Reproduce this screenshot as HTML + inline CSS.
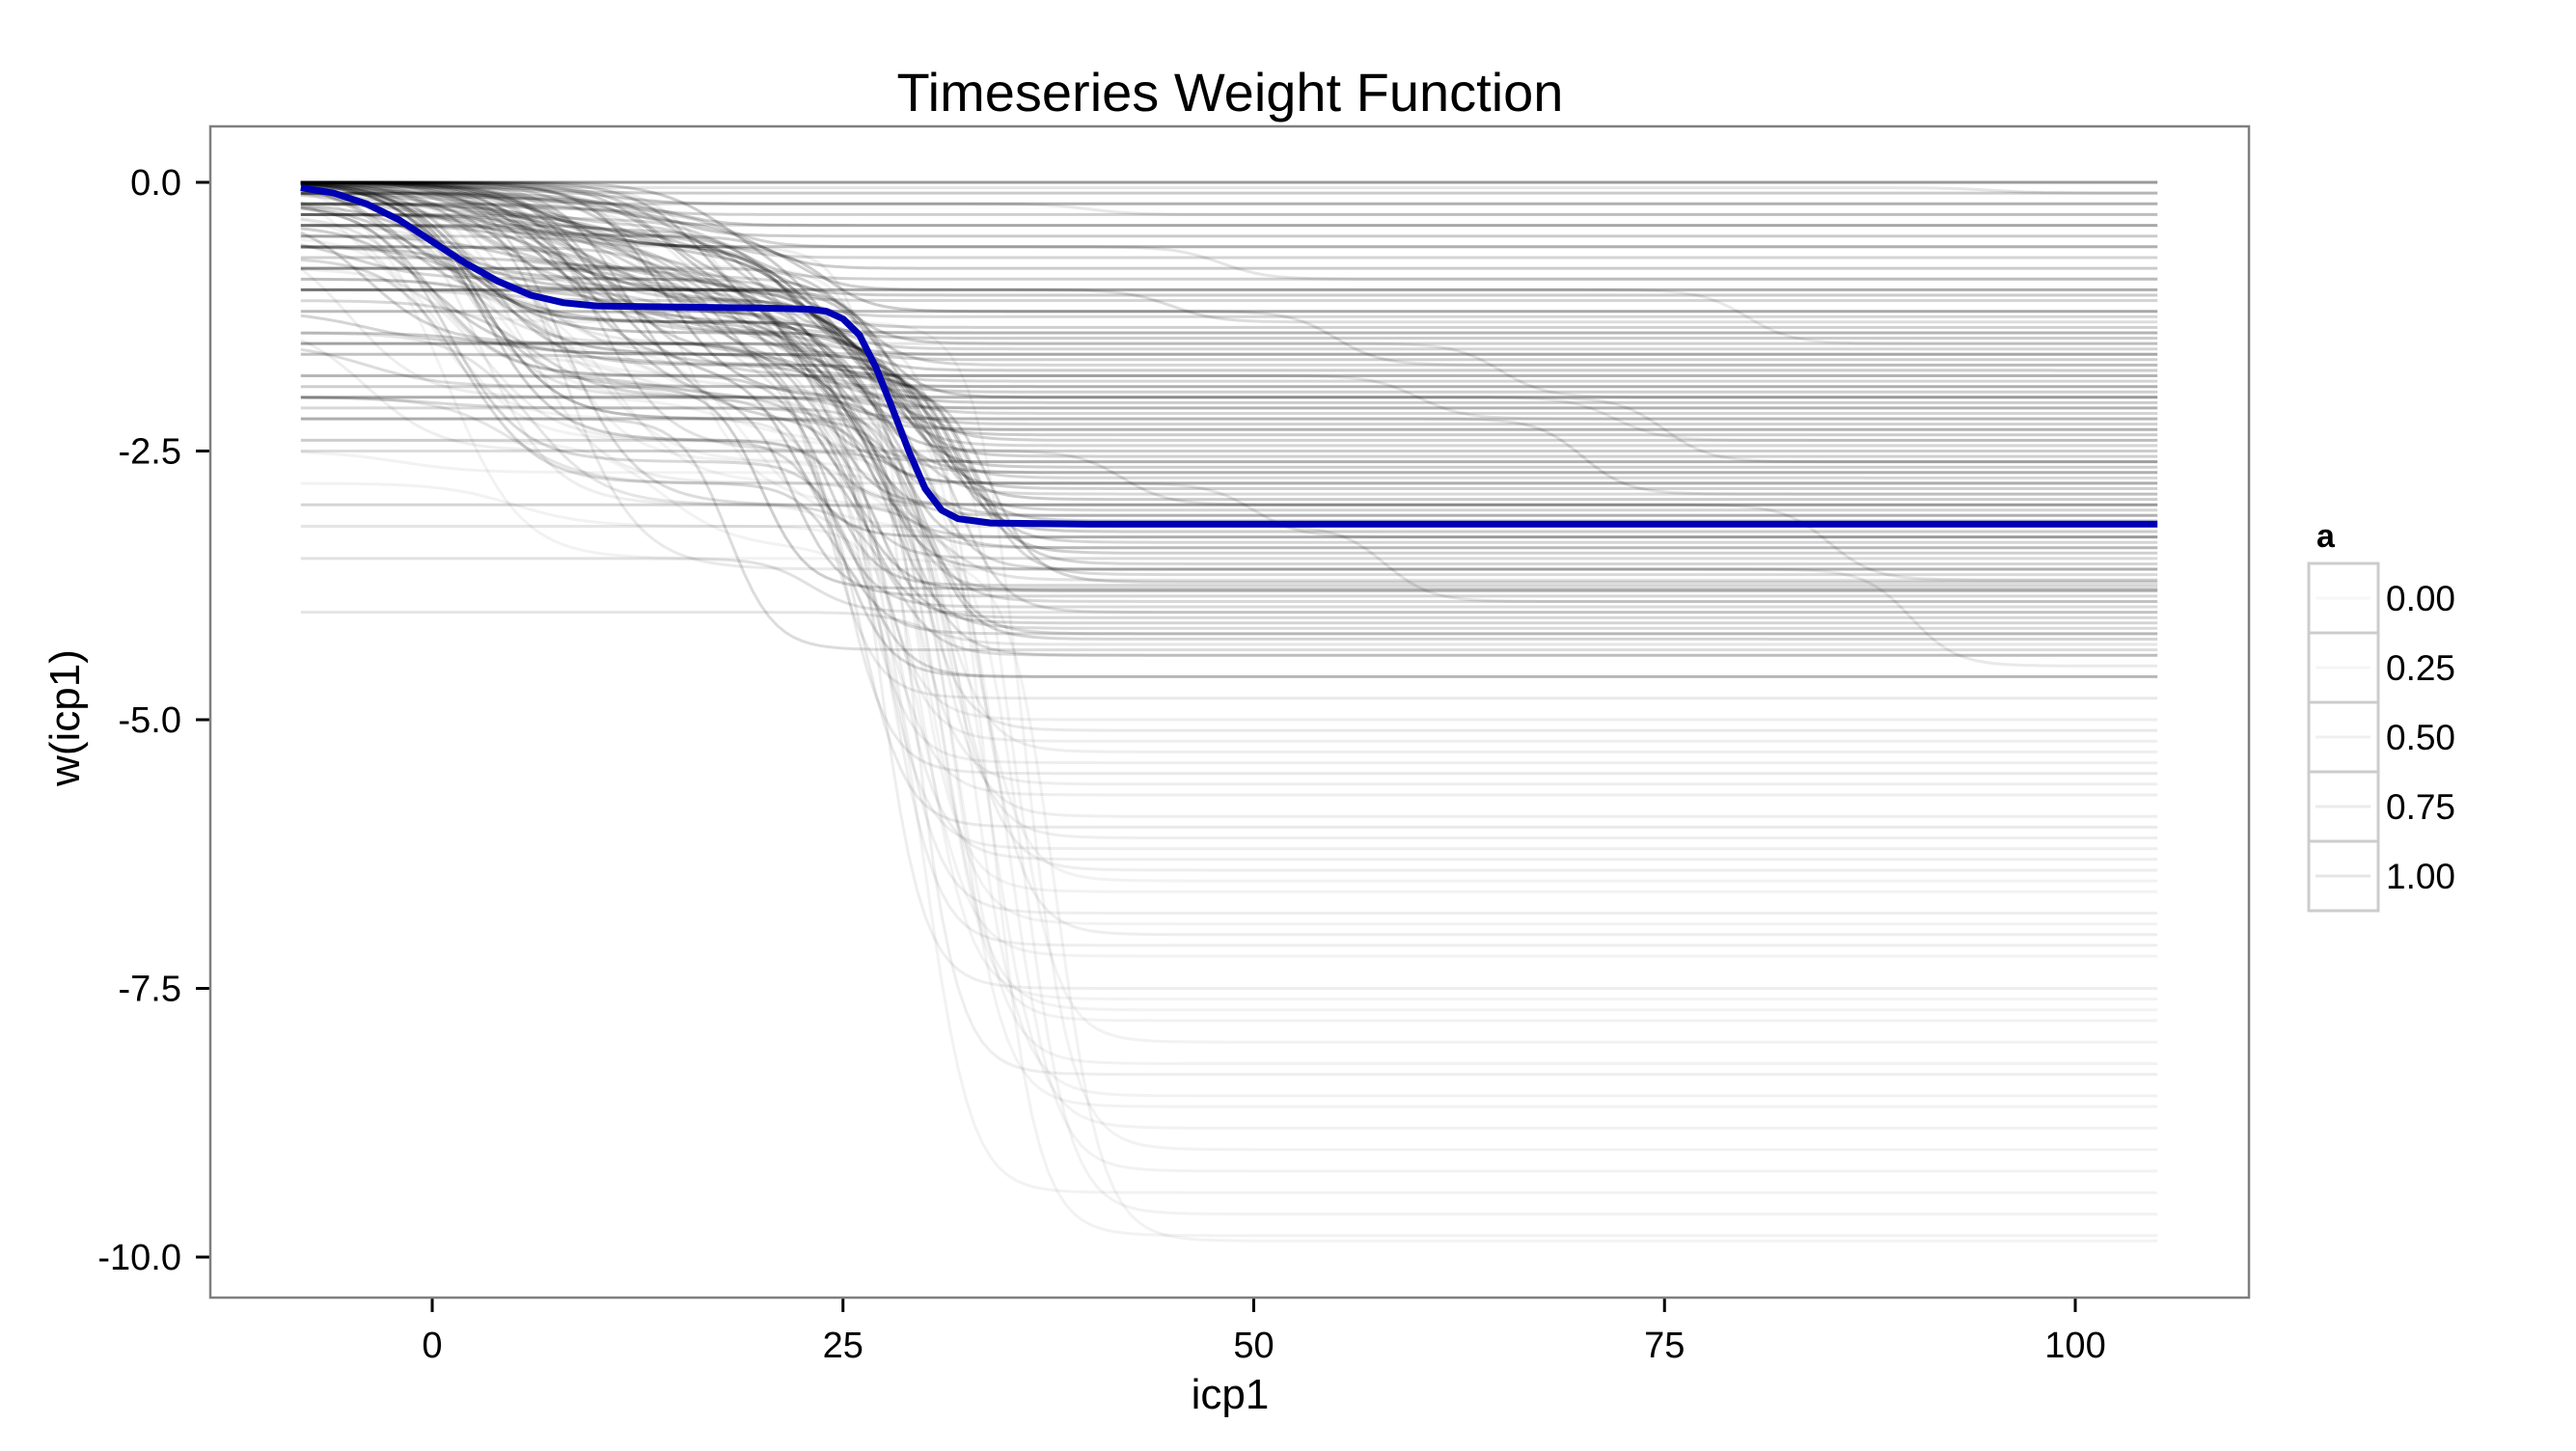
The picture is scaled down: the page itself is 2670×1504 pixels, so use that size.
<!DOCTYPE html>
<html><head><meta charset="utf-8"><style>
html,body{margin:0;padding:0;background:#fff;}
svg{display:block;font-family:"Liberation Sans",Arial,sans-serif;}
</style></head><body>
<svg id="chart" width="2670" height="1504" viewBox="0 0 2670 1504">
<rect x="0" y="0" width="2670" height="1504" fill="#fff"/>
<text x="1275" y="115" font-size="56" text-anchor="middle">Timeseries Weight Function</text>
<g id="lines"></g>
<g id="axes"></g>
<rect x="218" y="131" width="2113" height="1214" fill="none" stroke="#7f7f7f" stroke-width="2.5"/>
<text x="1275" y="1460" font-size="44" text-anchor="middle">icp1</text>
<text x="0" y="0" font-size="44" text-anchor="middle" transform="translate(82,744) rotate(-90)">w(icp1)</text>
<g>
<text x="2401" y="567" font-size="34" font-weight="bold" style="font-family:'Liberation Sans',Arial,sans-serif">a</text>
<g id="legend-keys"></g>
</g>
</svg>
<script>
const xTicks=[0,25,50,75,100];
const yTicks=[0,-2.5,-5,-7.5,-10];
const yTickLabels=["0.0","-2.5","-5.0","-7.5","-10.0"];
const legendLabels=["0.00","0.25","0.50","0.75","1.00"];
const blueX=[-8,-6,-4,-2,0,2,4,6,8,10,15,20,23,24,25,26,27,28,29,30,31,32,34,40,105];
const blueY=[-0.05,-0.1,-0.2,-0.35,-0.55,-0.75,-0.92,-1.05,-1.12,-1.15,-1.16,-1.17,-1.18,-1.2,-1.27,-1.42,-1.72,-2.1,-2.5,-2.85,-3.05,-3.13,-3.17,-3.18,-3.18];
const startVals=[0,0,0,-0.1,0,-0.2,0,0,-0.3,0,-0.5,0,-0.1,-0.8,0,-1.0,0,-0.2,-1.2,0,-0.4,-1.5,0,-0.1,-2.0,0,-0.6,-2.5,0,-0.3,-1.8,0,-3.0,-0.2,0,-1.1,-3.5,0,-0.7,-4.0,0,-0.2,0,-0.9,0,-1.3,0,-0.1,0,-2.2,0,-0.4,0,-1.6,0,-2.8,0,-0.5,0,-0.2,-1.0,0,-2.4,0,0,-0.3,0,-1.4,0,-0.6,0,-2.0,0,-0.1,0,-0.8,0,-3.2,0,0,
0,0,0,0,-0.1,0,-0.2,0,-0.3,0,-0.4,0,-0.5,-0.2,-0.6,0,-0.7,-0.1,-0.8,0,-0.9,-0.3,-1.0,0,-1.2,-0.4,-1.4,0,-1.6,-0.5,-1.8,0,-1.9,-0.2,-2.0,-0.6,-2.1,0,-2.2,-2.4,0,0,-0.1,0,-0.2,0,-0.3,0,-0.4,0,-0.2,0,-0.5,0,-0.8,0,-1.0,0,-1.5,-0.3,0,-0.3,-0.6,-1.0,-1.5,-2.0,0,-0.2,-0.4,-0.8,-1.2,-2.2,-0.5,-1.0,-1.5,-2.0,-2.5,-3.0,0,-1.5];
const midVals=[0,0,-0.1,-0.2,-0.3,-0.4,-0.5,-0.4,-0.6,-0.5,-0.8,-0.6,-0.9,-0.7,-1.0,-0.8,-1.1,-0.9,-1.2,-1.0,-1.3,-1.1,-1.4,-1.2,-1.5,-1.3,-1.6,-1.4,-1.8,-1.5,-2.0,-1.7,-2.2,-1.8,-2.4,-2.0,-2.6,-2.2,-2.8,-2.4,-3.0,-2.6,-1.5,-2.0,-1.2,-2.5,-1.8,-3.0,-1.0,-2.2,-1.6,-2.8,-0.8,-2.0,-1.4,-3.2,-1.1,-2.4,-1.8,-0.6,-2.6,-1.3,-3.4,-2.0,-1.0,-1.8,-2.2,-3.0,-0.2,-1.2,-2.0,-2.8,-3.6,-1.5,-0.6,-1.0,-2.5,-3.2,-2.0,-0.05,
-0.05,-0.15,-0.25,-0.35,-0.45,-0.5,-0.6,-0.65,-0.7,-0.75,-0.8,-0.85,-0.9,-1.0,-1.0,-1.1,-1.1,-1.2,-1.2,-1.3,-1.3,-1.4,-1.4,-1.5,-1.5,-1.6,-1.6,-1.7,-1.7,-1.8,-1.8,-1.9,-1.9,-2.0,-2.0,-2.1,-2.1,-2.2,-2.2,-2.4,-0.1,-0.3,-0.5,-0.8,-1.0,-1.2,-1.4,-1.6,-1.8,-2.0,-1.5,-1.8,-2.0,-2.2,-2.4,-2.6,-2.8,-3.0,-3.2,-3.5,-0.6,-1.0,-1.3,-1.7,-1.9,-2.1,-0.2,-0.7,-1.1,-1.4,-1.7,-2.2,-1.6,-1.9,-2.1,-2.4,-2.7,-3.0,-0.9,-1.5];
const step1X=[-2,0,3,6,9,12,2,5,8,1,4,7,10,-4,14,3,-2,0,3,6,9,12,2,5,8,1,4,7,10,-4,14,3,-2,0,3,6,9,12,2,5,8,1,4,7,10,-4,14,3,-2,0,3,6,9,12,2,5,8,1,4,7,10,-4,14,3,-2,0,3,6,9,12,2,5,8,1,4,7,10,-4,14,3,
-6,-3,0,2,4,6,8,10,12,14,16,18,-5,-1,3,7,11,15,19,1,5,9,13,17,-4,0,4,8,12,16,20,2,6,10,14,18,-2,3,7,11,-6,-3,0,2,4,6,8,10,12,14,16,18,-5,-1,3,7,11,15,19,1,5,9,13,17,-4,0,4,8,12,16,20,2,6,10,14,18,-2,3,7,11];
const finalVals=[0,0,-0.2,-0.4,-0.6,-0.8,-1.0,-1.1,-1.2,-1.4,-1.5,-1.6,-1.7,-1.8,-1.9,-2.0,-2.1,-2.2,-2.3,-2.4,-2.5,-2.6,-2.7,-2.8,-2.9,-3.0,-3.1,-3.2,-3.3,-3.4,-3.5,-3.6,-3.7,-3.75,-3.8,-3.9,-4.0,-4.1,-4.2,-4.3,-4.4,-4.6,-4.8,-5.0,-5.1,-5.3,-5.5,-5.7,-5.9,-6.0,-6.2,-6.4,-6.6,-6.8,-7.0,-7.2,-7.5,-7.7,-8.0,-8.3,-8.6,-9.0,-9.4,-9.8,-1.3,-2.2,-2.9,-3.7,-0.3,-1.7,-2.6,-3.3,-4.5,-2.0,-0.9,-1.5,-3.0,-3.9,-2.4,-0.1,
-0.1,-0.3,-0.5,-0.7,-0.9,-1.05,-1.25,-1.35,-1.45,-1.55,-1.65,-1.75,-1.85,-1.95,-2.05,-2.15,-2.25,-2.35,-2.45,-2.55,-2.65,-2.75,-2.85,-2.95,-3.05,-3.15,-3.25,-3.35,-3.45,-3.55,-3.65,-3.72,-3.78,-3.85,-3.95,-4.05,-4.15,-4.25,-4.35,-4.6,-0.2,-0.6,-1.0,-1.6,-2.0,-2.3,-2.7,-3.1,-3.6,-4.0,-5.2,-5.6,-6.1,-6.5,-7.1,-7.6,-8.2,-8.8,-9.6,-9.85,-1.2,-1.9,-2.6,-3.3,-3.8,-4.2,-0.4,-1.4,-2.1,-2.8,-3.4,-4.4,-5.4,-6.3,-6.9,-7.8,-8.5,-9.2,-1.8,-3.0];
const step2X=[5,10,12,15,18,20,22,18,24,20,25,22,26,21,23,27,24,22,25,28,26,23,27,25,29,24,26,30,22,28,25,27,31,24,26,29,23,27,25,30,28,26,24,27,29,31,25,28,30,26,27,32,29,28,33,30,27,31,35,29,32,36,30,34,45,60,70,85,40,55,75,50,90,65,48,80,42,58,72,95,
8,12,15,17,19,20,21,22,22,23,23,24,24,25,25,26,26,27,27,28,28,29,29,30,30,31,31,32,32,33,33,34,20,22,24,26,28,30,18,25,5,10,14,18,22,24,26,28,30,32,27,29,31,33,28,30,32,34,36,38,16,20,24,26,28,30,12,18,22,25,27,29,26,28,30,31,33,35,21,23];
const alphaVals=[0.14,0.12,0.1,0.12,0.1,0.12,0.11,0.1,0.12,0.1,0.11,0.12,0.1,0.09,0.11,0.12,0.1,0.12,0.09,0.11,0.12,0.1,0.11,0.12,0.09,0.11,0.1,0.08,0.12,0.1,0.09,0.11,0.07,0.1,0.11,0.09,0.07,0.1,0.09,0.06,0.08,0.09,0.05,0.04,0.05,0.04,0.05,0.04,0.04,0.05,0.04,0.04,0.03,0.04,0.04,0.03,0.04,0.03,0.03,0.04,0.03,0.03,0.03,0.03,0.08,0.06,0.07,0.06,0.05,0.07,0.06,0.06,0.05,0.06,0.06,0.05,0.07,0.06,0.05,0.06,
0.12,0.11,0.12,0.1,0.11,0.12,0.1,0.11,0.12,0.1,0.11,0.12,0.1,0.11,0.12,0.1,0.11,0.12,0.1,0.11,0.12,0.1,0.11,0.12,0.1,0.11,0.12,0.1,0.11,0.1,0.09,0.1,0.11,0.1,0.09,0.1,0.09,0.1,0.08,0.09,0.1,0.1,0.09,0.1,0.09,0.1,0.09,0.1,0.09,0.08,0.04,0.04,0.04,0.03,0.04,0.03,0.03,0.03,0.03,0.03,0.1,0.09,0.1,0.09,0.08,0.09,0.1,0.09,0.1,0.09,0.08,0.08,0.04,0.04,0.03,0.03,0.03,0.03,0.1,0.09];

const NS="http://www.w3.org/2000/svg";
const OPACITY_SCALE=1.7;
function sx(v){return 448+v*17.03;}
function sy(v){return 189+(-v)*111.4;}
function sig(t){return 1/(1+Math.exp(-t));}
const lines=document.getElementById('lines');
for(let i=0;i<finalVals.length;i++){
  const s=startVals[i], m=Math.min(midVals[i],s), f=Math.min(finalVals[i],m);
  let d="";
  for(let x=-8;x<=105;x+=0.5){
    const y=s+(m-s)*sig((x-step1X[i])/2.2)+(f-m)*sig((x-step2X[i])/1.4);
    d+=(x===-8?"M":"L")+sx(x).toFixed(1)+","+sy(y).toFixed(1);
  }
  const p=document.createElementNS(NS,'path');
  p.setAttribute('d',d);p.setAttribute('fill','none');
  p.setAttribute('stroke','#000');p.setAttribute('stroke-opacity',Math.min(1,alphaVals[i]*OPACITY_SCALE));
  p.setAttribute('stroke-width','3');
  
  
  lines.appendChild(p);
}
let bd="";
blueX.forEach((x,i)=>{bd+=(i?"L":"M")+sx(x).toFixed(1)+","+sy(blueY[i]).toFixed(1);});
const bp=document.createElementNS(NS,'path');
bp.setAttribute('d',bd);bp.setAttribute('fill','none');bp.setAttribute('stroke','#0000b4');
bp.setAttribute('stroke-width','7');bp.setAttribute('stroke-linejoin','round');


lines.appendChild(bp);

const axes=document.getElementById('axes');
xTicks.forEach(v=>{
  const t=document.createElementNS(NS,'line');
  t.setAttribute('x1',sx(v));t.setAttribute('x2',sx(v));t.setAttribute('y1',1345);t.setAttribute('y2',1360);
  t.setAttribute('stroke','#000');t.setAttribute('stroke-width','3');
  
  
  axes.appendChild(t);
  const l=document.createElementNS(NS,'text');
  l.setAttribute('x',sx(v));l.setAttribute('y',1407);l.setAttribute('font-size','38');l.setAttribute('text-anchor','middle');
  l.textContent=v;
  
  
  axes.appendChild(l);
});
yTicks.forEach((v,i)=>{
  const t=document.createElementNS(NS,'line');
  t.setAttribute('x1',203);t.setAttribute('x2',218);t.setAttribute('y1',sy(v));t.setAttribute('y2',sy(v));
  t.setAttribute('stroke','#000');t.setAttribute('stroke-width','3');
  
  
  axes.appendChild(t);
  const l=document.createElementNS(NS,'text');
  l.setAttribute('x',188);l.setAttribute('y',sy(v)+13);l.setAttribute('font-size','38');l.setAttribute('text-anchor','end');
  l.textContent=yTickLabels[i];
  
  
  axes.appendChild(l);
});
const lk=document.getElementById('legend-keys');
const legOp=[0.03,0.04,0.06,0.08,0.1];
legendLabels.forEach((lab,i)=>{
  const y0=584+i*72;
  const r=document.createElementNS(NS,'rect');
  r.setAttribute('x',2393);r.setAttribute('y',y0);r.setAttribute('width',72);r.setAttribute('height',72);
  r.setAttribute('fill','#fff');r.setAttribute('stroke','#cccccc');r.setAttribute('stroke-width','3');
  
  
  lk.appendChild(r);
  const ln=document.createElementNS(NS,'line');
  ln.setAttribute('x1',2400);ln.setAttribute('x2',2457);ln.setAttribute('y1',y0+36);ln.setAttribute('y2',y0+36);
  ln.setAttribute('stroke','#000');ln.setAttribute('stroke-opacity',legOp[i]);ln.setAttribute('stroke-width','3');
  
  
  lk.appendChild(ln);
  const t=document.createElementNS(NS,'text');
  t.setAttribute('x',2473);t.setAttribute('y',y0+49);t.setAttribute('font-size','37');
  t.textContent=lab;
  
  
  lk.appendChild(t);
});
</script>
</body></html>
